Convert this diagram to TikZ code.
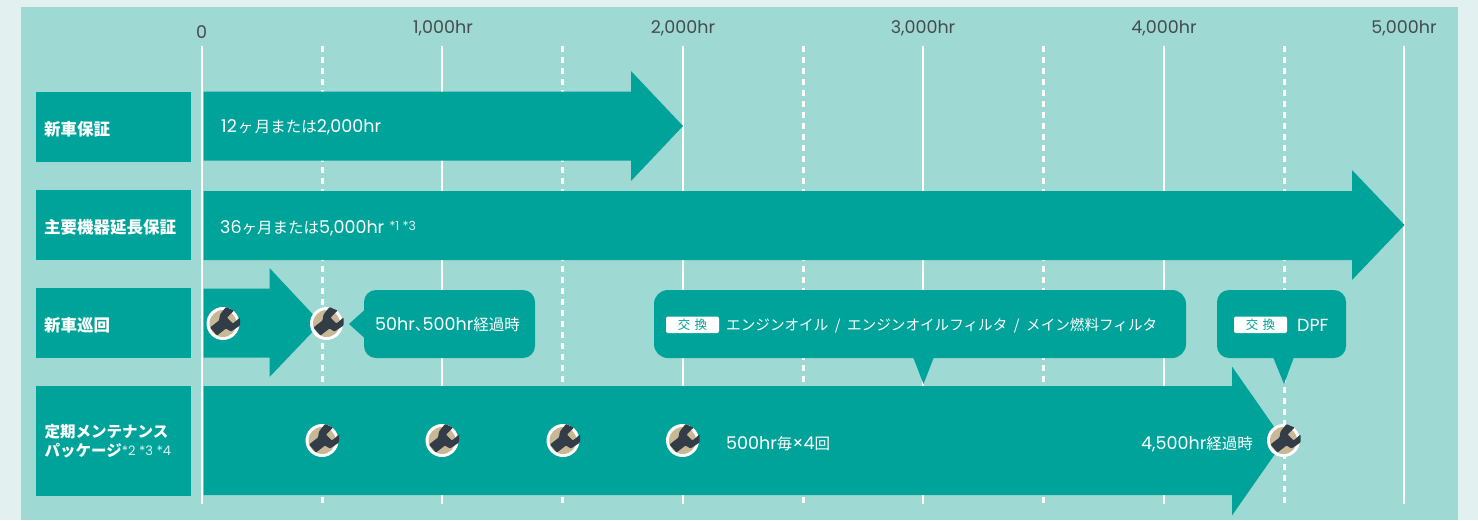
\documentclass[tikz,border=0pt]{standalone}
\usepackage{fontspec}
\setmainfont{Noto Sans CJK JP}
\newfontfamily\latf{Poppins}
\definecolor{bgout}{HTML}{E2F0EF}
\definecolor{panel}{HTML}{9FD9D4}
\definecolor{teal}{HTML}{00A39A}
\definecolor{beige}{HTML}{C9B896}
\definecolor{wrenchc}{HTML}{333D47}
\definecolor{ticktxt}{HTML}{444C4C}
\definecolor{notec}{HTML}{DDF2F0}
\newcommand{\fs}[1]{\fontsize{#1}{#1}\selectfont}
\newcommand{\la}[1]{{\fs{17.5}\latf #1}}
\newcommand{\nt}[1]{\raisebox{2.5pt}{\fs{12.5}\latf\textcolor{notec}{#1}}}
\tikzset{
  x=1pt,y=-1pt,
  solidgrid/.style={white,line width=2.8},
  dashgrid/.style={white,line width=3,dash pattern=on 6pt off 5pt},
  tick/.style={text=ticktxt,font=\fs{17.5}\latf,inner sep=0},
  rowbox/.style={fill=teal,draw=none},
  rowlabel/.style={text=white,font=\fs{16.5}\bfseries,inner sep=0,anchor=west,align=left},
  bartxt/.style={text=white,font=\fs{15.5},inner sep=0,anchor=west},
  tealshape/.style={fill=teal,draw=none},
  tag/.style={fill=white,rounded corners=2pt,draw=none},
  tagtxt/.style={text=teal,font=\fs{12.5},inner sep=0},
  wrench/.pic={
    \fill[white] (0,0) circle[radius=16.5];
    \fill[beige] (0,0) circle[radius=13.5];
    \fill[wrenchc,rounded corners=0.8pt] (-13,4) -- (-4,-3) -- (-3,-9) -- (3,-16.5) -- (11,-13) -- (4,-6) -- (10,0) -- (17,-6) -- (17,2) -- (8,8) -- (3,5) -- (-6,12) -- cycle;
  }
}
\begin{document}
\begin{tikzpicture}
\useasboundingbox (0,0) rectangle (1478,520);
\fill[bgout] (0,0) rectangle (1478,520);
\fill[panel] (20.5,7) rectangle (1458,520);
% grid
\foreach \x in {202,442,683,923,1164,1404}{\draw[solidgrid] (\x,46) -- (\x,504);}
\foreach \x in {322,562,803,1043,1284}{\draw[dashgrid] (\x,46) -- (\x,504);}
% ticks
\node[tick] (t0) at (201.5,32) {0};
\node[tick] (t1) at (443,28) {1,000hr};
\node[tick] (t2) at (683,28) {2,000hr};
\node[tick] (t3) at (923,28) {3,000hr};
\node[tick] (t4) at (1164,28) {4,000hr};
\node[tick] (t5) at (1404,28) {5,000hr};
% row boxes
\fill[rowbox] (35.5,92) rectangle (190.5,162);
\fill[rowbox] (35.5,190) rectangle (190.5,260);
\fill[rowbox] (35.5,288) rectangle (190.5,358);
\fill[rowbox] (35.5,386) rectangle (190.5,496);
\node[rowlabel] (r1) at (44,129) {新車保証};
\node[rowlabel] (r2) at (44,227.5) {主要機器延長保証};
\node[rowlabel] (r3) at (44,325) {新車巡回};
\node[rowlabel,font=\fs{15.5}\bfseries] (r4a) at (44.5,432) {定期メンテナンス};
\node[rowlabel,font=\fs{15.5}\bfseries] (r4b) at (44.5,451) {パッケージ\raisebox{1pt}{\fs{13}\mdseries\latf\textcolor{notec}{*2 *3 *4}}};
% arrows
\fill[tealshape] (203.5,91.5) -- (631,91.5) -- (631,71) -- (683,126) -- (631,181) -- (631,160.5) -- (203.5,160.5) -- cycle;
\fill[tealshape] (203.5,191) -- (1352,191) -- (1352,170) -- (1404.5,225) -- (1352,280) -- (1352,260) -- (203.5,260) -- cycle;
\fill[tealshape] (203.5,288.5) -- (269.5,288.5) -- (269.5,268) -- (321,323) -- (269.5,377) -- (269.5,357.5) -- (203.5,357.5) -- cycle;
\fill[tealshape] (203.5,386) -- (1232,386) -- (1232,366.5) -- (1284,441) -- (1232,515.5) -- (1232,495) -- (203.5,495) -- cycle;
\node[bartxt] (a1) at (221,127) {\la{12}\kern1ptヶ\kern1.5pt月または\la{2,000hr}};
\node[bartxt] (a2) at (220,228) {\la{36}ヶ月または\la{5,000hr}\hspace{5pt}\nt{*1 *3}};
\node[bartxt] (a3) at (726,444) {\la{500hr}毎\la{×4}回};
\node[bartxt,anchor=east] (a4) at (1253,444) {\la{4,500hr}経過時};
% callouts
\fill[tealshape,rounded corners=12pt] (364,290) rectangle (535,358);
\fill[tealshape] (364.5,310) -- (349,324) -- (364.5,338) -- cycle;
\fill[tealshape,rounded corners=14pt] (654,290) rectangle (1186,358);
\fill[tealshape] (913,357) -- (923.5,384) -- (934,357) -- cycle;
\fill[tealshape,rounded corners=12pt] (1217,290) rectangle (1346,358);
\fill[tealshape] (1273,357) -- (1284,384) -- (1294,357) -- cycle;
\node[bartxt] (c1) at (375,325) {\la{50hr}{\addfontfeature{RawFeature=+palt}、}\la{500hr}経過時};
\fill[tag] (666,316.5) rectangle (719,333);
\node[tagtxt] (tg1) at (692.5,325) {交\,\,換};
\node[bartxt,font=\fs{14.6}] (c2) at (726,326) {エンジンオイル\hspace{6.5pt}/\hspace{6.5pt}エンジンオイルフィルタ\hspace{6.5pt}/\hspace{6.5pt}メイン燃料フィルタ};
\fill[tag] (1234,316.5) rectangle (1287,333);
\node[tagtxt] (tg2) at (1260.5,325) {交\,\,換};
\node[bartxt] (c3) at (1297,325) {\la{DPF}};
% icons
\foreach \x/\y in {223/323.5,326.5/323.5,322/440.5,442/440.5,563/440.5,682.5/440.5,1283.5/440.5}{\pic at (\x,\y) {wrench};}
\end{tikzpicture}
\end{document}
